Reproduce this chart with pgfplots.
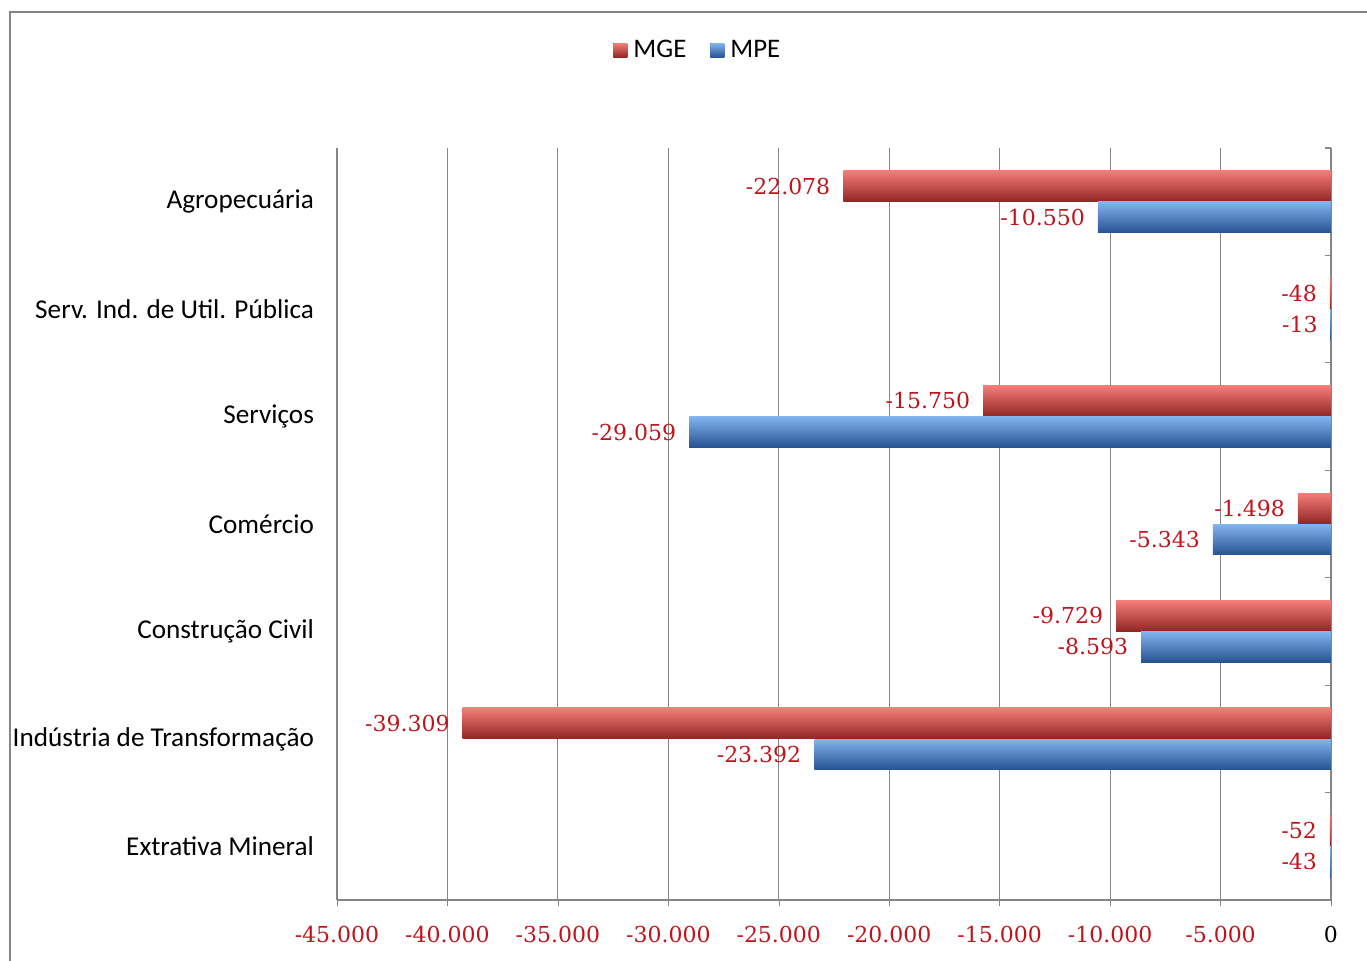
\documentclass[border=0pt]{standalone}
\usepackage{fontspec}
\setmainfont{Carlito}
\newfontfamily\numfont{DejaVu Serif}
\usepackage{pgfplots}
\pgfplotsset{compat=1.18}
\definecolor{lblred}{RGB}{192,20,28}
\definecolor{gridgray}{RGB}{134,134,134}
\definecolor{mgeTop}{RGB}{245,125,120}
\definecolor{mgeMid}{RGB}{208,66,62}
\definecolor{mgeBot}{RGB}{145,38,36}
\definecolor{mpeTop}{RGB}{130,180,238}
\definecolor{mpeMid}{RGB}{70,125,198}
\definecolor{mpeBot}{RGB}{38,82,145}
\pgfplotsset{
  mge/.style={draw=none, bar shift=0.145, top color=mgeTop, middle color=mgeMid, bottom color=mgeBot},
  mpe/.style={draw=none, bar shift=-0.145, top color=mpeTop, middle color=mpeMid, bottom color=mpeBot},
}
\begin{document}
\begin{tikzpicture}
\useasboundingbox (0,0) rectangle (683.5pt,480.5pt);
\draw[gridgray, line width=0.6pt] (5pt,0) -- (5pt,474.5pt) -- (683.5pt,474.5pt);
\begin{axis}[
  at={(168.5pt,30.5pt)}, anchor=south west,
  scale only axis, width=497pt, height=376pt,
  xbar,
  xmin=-45000, xmax=0,
  ymin=-0.5, ymax=6.5,
  separate axis lines,
  axis x line*=bottom,
  x axis line style={gridgray, line width=0.6pt},
  y axis line style={draw=none},
  scaled x ticks=false,
  xtick={-45000,-40000,...,0},
  xticklabels={
    \textcolor{lblred}{-45.000},\textcolor{lblred}{-40.000},\textcolor{lblred}{-35.000},
    \textcolor{lblred}{-30.000},\textcolor{lblred}{-25.000},\textcolor{lblred}{-20.000},
    \textcolor{lblred}{-15.000},\textcolor{lblred}{-10.000},\textcolor{lblred}{-5.000},0},
  xticklabel style={font=\numfont\fontsize{11}{13}\selectfont, yshift=-6.5pt},
  xtick align=outside,
  xmajorgrids,
  grid style={gridgray, line width=0.6pt},
  ytick={0,...,6},
  yticklabels={Extrativa Mineral,Indústria de Transformação,Construção Civil,Comércio,Serviços,Serv. Ind. de Util. Pública,Agropecuária},
  yticklabel style={font=\fontsize{13.6}{16}\selectfont, xshift=-8pt},
  minor ytick={-0.5,0.5,...,6.5},
  ytick pos=right, yticklabel pos=left,
  ytick align=inside,
  ytick style={gridgray, line width=0.6pt},
  major tick length=3pt,
  every major y tick/.style={draw=none},
  minor tick length=3pt,
  bar width=0.285,
  nodes near coords,
  nodes near coords style={font=\numfont\fontsize{11}{13}\selectfont, text=lblred, anchor=east, xshift=-3pt,
    /pgf/number format/.cd, fixed, 1000 sep={.}, assume math mode=true},
  legend style={at={(0.364,1.13)}, anchor=center, draw=none, fill=none,
    legend columns=2, font=\fontsize{13.4}{15}\selectfont,
    /tikz/every even column/.append style={column sep=10pt},
    /tikz/every odd column/.append style={column sep=1pt}},
  legend image code/.code={\fill[#1] (0pt,-3.5pt) rectangle (7pt,3.5pt);},
  clip=false,
]
\addplot[mge] coordinates {(-22078,6)};
\addlegendentry{MGE}
\addplot[mpe] coordinates {(-10550,6)};
\addlegendentry{MPE}
\addplot[mge, forget plot] coordinates {(-48,5)};
\addplot[mge, forget plot] coordinates {(-15750,4)};
\addplot[mge, forget plot] coordinates {(-1498,3)};
\addplot[mge, forget plot] coordinates {(-9729,2)};
\addplot[mge, forget plot] coordinates {(-39309,1)};
\addplot[mge, forget plot] coordinates {(-52,0)};
\addplot[mpe, forget plot] coordinates {(-13,5)};
\addplot[mpe, forget plot] coordinates {(-29059,4)};
\addplot[mpe, forget plot] coordinates {(-5343,3)};
\addplot[mpe, forget plot] coordinates {(-8593,2)};
\addplot[mpe, forget plot] coordinates {(-23392,1)};
\addplot[mpe, forget plot] coordinates {(-43,0)};
\end{axis}
\end{tikzpicture}
\end{document}
